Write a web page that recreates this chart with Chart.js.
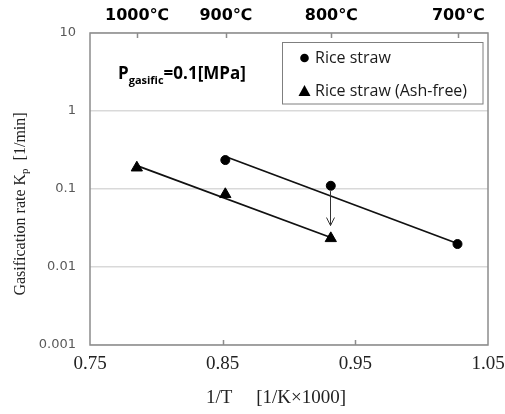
<!DOCTYPE html>
<html>
<head>
<meta charset="utf-8">
<script src="https://cdn.jsdelivr.net/npm/chart.js"></script>
<style>
  body { margin: 0; background: #fff; }
  canvas { display: block; }
</style>
</head>
<body>
<canvas id="chart" width="505" height="414"></canvas>
<script>
// Data (x = 1/T [1/K x 1000], y = Kp [1/min])
const riceX = [0.852, 0.9315, 1.027];
const riceY = [0.235, 0.110, 0.0197];
const ashX = [0.7853, 0.852, 0.9315];
const ashY = [0.1875, 0.0855, 0.0233];

// Fitted lines (end points)
const riceFitX = [0.852, 1.027];
const riceFitY = [0.261, 0.020];
const ashFitX = [0.7853, 0.9315];
const ashFitY = [0.199, 0.0239];

// Arrow from rice straw to ash-free at 800 C
const arrowX = 0.9315;
const arrowFrom = 0.094;
const arrowTo = 0.034;

// Tick labels
const xTicks = [0.75, 0.85, 0.95, 1.05];
const yTicks = [0.001, 0.01, 0.1, 1, 10];
const tempTicks = [1000, 900, 800, 700]; // deg C, top axis

function toPoints(xs, ys) {
    return xs.map((x, i) => ({ x: x, y: ys[i] }));
}

function invT(c) {
    return 1000 / (c + 273.15);
}

// Frame, inward ticks, arrow, legend, labels and axis titles
const overlay = {
    id: 'overlay',
    afterDraw(chart) {
        const ctx = chart.ctx;
        const a = chart.chartArea;
        const xs = chart.scales.x;
        const ys = chart.scales.y;
        ctx.save();

        // frame
        ctx.strokeStyle = '#8c8c8c';
        ctx.lineWidth = 1.5;
        ctx.strokeRect(a.left, a.top, a.right - a.left, a.bottom - a.top);

        // inward ticks
        ctx.beginPath();
        xTicks.slice(1, -1).forEach(v => {
            const px = Math.round(xs.getPixelForValue(v)) + 0.5;
            ctx.moveTo(px, a.bottom);
            ctx.lineTo(px, a.bottom - 5);
        });
        tempTicks.forEach(t => {
            const px = Math.round(xs.getPixelForValue(invT(t))) + 0.5;
            ctx.moveTo(px, a.top);
            ctx.lineTo(px, a.top + 5);
        });
        ctx.stroke();

        // arrow
        const ax = Math.round(xs.getPixelForValue(arrowX)) - 0.5;
        const ay1 = ys.getPixelForValue(arrowFrom);
        const ay2 = ys.getPixelForValue(arrowTo);
        ctx.strokeStyle = '#333';
        ctx.lineWidth = 1;
        ctx.beginPath();
        ctx.moveTo(ax, ay1);
        ctx.lineTo(ax, ay2);
        ctx.moveTo(ax - 4, ay2 - 8);
        ctx.lineTo(ax, ay2);
        ctx.lineTo(ax + 4, ay2 - 8);
        ctx.stroke();

        // pressure label
        ctx.fillStyle = '#000';
        ctx.textBaseline = 'alphabetic';
        ctx.textAlign = 'left';
        let px = 118;
        ctx.font = 'bold 17px "Open Sans"';
        ctx.fillText('P', px, 79);
        px += ctx.measureText('P').width;
        ctx.font = 'bold 11px "Open Sans"';
        ctx.fillText('gasific', px, 84);
        px += ctx.measureText('gasific').width;
        ctx.font = 'bold 17px "Open Sans"';
        ctx.fillText('=0.1[MPa]', px, 79);

        // legend
        ctx.strokeStyle = '#7f7f7f';
        ctx.lineWidth = 1;
        ctx.strokeRect(282.5, 42.5, 200.5, 61.5);
        ctx.fillStyle = '#000';
        ctx.beginPath();
        ctx.arc(304.5, 58, 4.3, 0, Math.PI * 2);
        ctx.fill();
        ctx.beginPath();
        ctx.moveTo(304.5, 85);
        ctx.lineTo(310.5, 96);
        ctx.lineTo(298.5, 96);
        ctx.closePath();
        ctx.fill();
        ctx.font = '16px "Open Sans"';
        ctx.textBaseline = 'middle';
        ctx.fillStyle = '#1a1a1a';
        ctx.fillText('Rice straw', 315, 58);
        ctx.fillText('Rice straw (Ash-free)', 315, 91);

        // x title
        ctx.font = '19px "Liberation Serif"';
        ctx.textAlign = 'center';
        ctx.fillStyle = '#222';
        ctx.fillText('1/T     [1/K\u00d71000]', 276, 398);

        // y title with subscript
        ctx.translate(25, 204);
        ctx.rotate(-Math.PI / 2);
        ctx.textAlign = 'left';
        ctx.textBaseline = 'alphabetic';
        const partA = 'Gasification rate K';
        const partB = 'p';
        const partC = '  [1/min]';
        ctx.font = '16px "Liberation Serif"';
        const wA = ctx.measureText(partA).width;
        const wC = ctx.measureText(partC).width;
        ctx.font = '11px "Liberation Serif"';
        const wB = ctx.measureText(partB).width;
        let tx = -(wA + wB + wC) / 2;
        ctx.font = '16px "Liberation Serif"';
        ctx.fillText(partA, tx, 0);
        tx += wA;
        ctx.font = '11px "Liberation Serif"';
        ctx.fillText(partB, tx, 3);
        tx += wB;
        ctx.font = '16px "Liberation Serif"';
        ctx.fillText(partC, tx, 0);

        ctx.restore();
    }
};

function fixHeight(h) {
    return s => {
        s.height = h;
        s.paddingLeft = 0;
        s.paddingRight = 0;
    };
}

function initChart() {
    const ctx = document.getElementById('chart').getContext('2d');
    new Chart(ctx, {
        type: 'scatter',
        data: {
            datasets: [{
                label: 'Rice straw',
                data: toPoints(riceX, riceY),
                pointStyle: 'circle',
                pointRadius: 4.5,
                backgroundColor: '#000',
                borderColor: '#000',
                showLine: false
            }, {
                label: 'Rice straw (Ash-free)',
                data: toPoints(ashX, ashY),
                pointStyle: 'triangle',
                pointRadius: 6.5,
                backgroundColor: '#000',
                borderColor: '#000',
                showLine: false
            }, {
                label: 'fit rice',
                data: toPoints(riceFitX, riceFitY),
                showLine: true,
                pointRadius: 0,
                borderColor: '#111',
                borderWidth: 1.8
            }, {
                label: 'fit ash',
                data: toPoints(ashFitX, ashFitY),
                showLine: true,
                pointRadius: 0,
                borderColor: '#111',
                borderWidth: 1.8
            }]
        },
        options: {
            responsive: false,
            animation: false,
            layout: {
                padding: { right: 17 }
            },
            plugins: {
                legend: { display: false },
                tooltip: { enabled: false }
            },
            scales: {
                x: {
                    type: 'linear',
                    position: 'bottom',
                    min: 0.75,
                    max: 1.05,
                    afterBuildTicks: s => { s.ticks = xTicks.map(v => ({ value: v })); },
                    afterFit: fixHeight(69),
                    grid: { display: false, drawTicks: false },
                    border: { display: false },
                    ticks: {
                        padding: 8,
                        maxRotation: 0,
                        color: '#222',
                        font: { family: 'Liberation Serif', size: 19 },
                        callback: v => v.toFixed(2)
                    }
                },
                xTop: {
                    type: 'linear',
                    position: 'top',
                    min: 0.75,
                    max: 1.05,
                    afterBuildTicks: s => { s.ticks = tempTicks.map(t => ({ value: invT(t) })); },
                    afterFit: fixHeight(33),
                    grid: { display: false, drawTicks: false },
                    border: { display: false },
                    ticks: {
                        padding: 8,
                        maxRotation: 0,
                        color: '#000',
                        font: { family: 'DejaVu Sans', size: 16, weight: 'bold' },
                        callback: (v, i) => tempTicks[i] + '\u2103'
                    }
                },
                y: {
                    type: 'logarithmic',
                    min: 0.001,
                    max: 10,
                    afterBuildTicks: s => { s.ticks = yTicks.map(v => ({ value: v })); },
                    afterFit: s => { s.width = 90; },
                    grid: { color: '#d9d9d9', lineWidth: 1.5, drawTicks: false },
                    border: { display: false },
                    ticks: {
                        padding: 14,
                        color: '#595959',
                        font: { family: 'DejaVu Sans', size: 13 },
                        callback: v => String(v)
                    }
                }
            }
        },
        plugins: [overlay]
    });
}

document.addEventListener('DOMContentLoaded', initChart);
</script>
</body>
</html>
